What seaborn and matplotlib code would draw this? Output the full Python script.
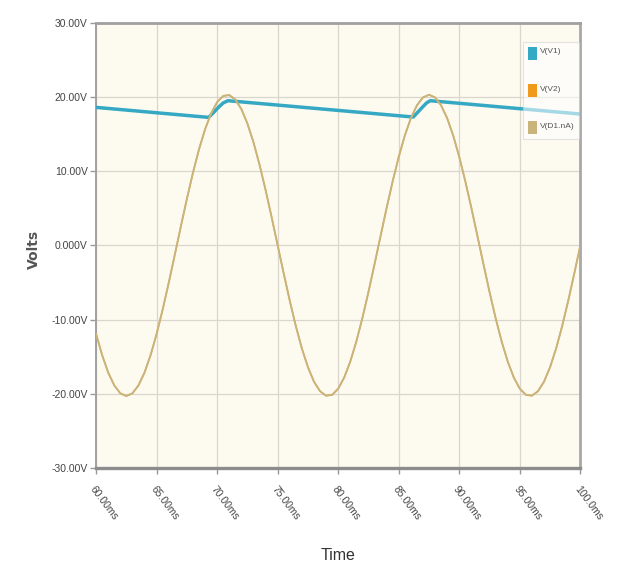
import matplotlib
matplotlib.use("Agg")
import matplotlib.pyplot as plt
from matplotlib.patches import Patch
import seaborn as sns
import pandas as pd

# Time axis for the source waveform, in ms (0.5 ms steps)
time_ms = [60 + 0.5 * k for k in range(81)]

# Source / diode anode voltage, V
v_source = [
    -11.93, -14.80, -17.14, -18.87, -19.94, -20.30, -19.94, -18.87, -17.14, -14.80,
    -11.93, -8.64, -5.05, -1.27, 2.54, 6.27, 9.78, 12.94, 15.64, 17.79,
    19.31, 20.14, 20.26, 19.66, 18.37, 16.42, 13.90, 10.88, 7.47, 3.80,
    0.00, -3.80, -7.47, -10.88, -13.90, -16.42, -18.37, -19.66, -20.26, -20.14,
    -19.31, -17.79, -15.64, -12.94, -9.78, -6.27, -2.54, 1.27, 5.05, 8.64,
    11.93, 14.80, 17.14, 18.87, 19.94, 20.30, 19.94, 18.87, 17.14, 14.80,
    11.93, 8.64, 5.05, 1.27, -2.54, -6.27, -9.78, -12.94, -15.64, -17.79,
    -19.31, -20.14, -20.26, -19.66, -18.37, -16.42, -13.90, -10.88, -7.47, -3.80,
    0.00,
]

# Capacitor (output) voltage: ripple with charging bumps near the peaks
cap_time_ms = [60.0, 69.3, 69.7, 70.1, 70.5, 70.9, 86.2, 86.6, 87.0, 87.3, 87.6, 100.0]
v_cap = [18.6, 17.25, 17.9, 18.6, 19.2, 19.5, 17.3, 18.0, 18.7, 19.2, 19.5, 17.7]

series_names = ["V(V1)", "V(V2)", "V(D1.nA)"]
series_colors = ["#35A9C4", "#F09A1C", "#C9B47C"]

y_ticks = [30, 20, 10, 0, -10, -20, -30]
y_tick_labels = ["30.00V", "20.00V", "10.00V", "0.000V", "-10.00V", "-20.00V", "-30.00V"]
x_ticks = [60, 65, 70, 75, 80, 85, 90, 95, 100]
x_tick_labels = ["60.00ms", "65.00ms", "70.00ms", "75.00ms", "80.00ms",
                 "85.00ms", "90.00ms", "95.00ms", "100.0ms"]

sns.set_style("white")
plt.rcParams["font.family"] = ["Liberation Sans", "DejaVu Sans"]

src = pd.DataFrame({"t": time_ms, "v": v_source})
cap = pd.DataFrame({"t": cap_time_ms, "v": v_cap})

fig = plt.figure(figsize=(6.2, 5.7), dpi=100)
ax = fig.add_axes([0.155, 0.179, 0.781, 0.781])
ax.set_facecolor("#FDFAF0")

sns.lineplot(data=cap, x="t", y="v", ax=ax, color=series_colors[0], lw=2.5, zorder=3)
sns.lineplot(data=src, x="t", y="v", ax=ax, color=series_colors[1], lw=1.0, zorder=4)
sns.lineplot(data=src, x="t", y="v", ax=ax, color=series_colors[2], lw=1.4, zorder=5)

ax.set_xlim(60, 100)
ax.set_ylim(-30, 30)
ax.set_yticks(y_ticks)
ax.set_yticklabels(y_tick_labels, fontsize=7.5, color="#444444")
ax.set_xticks(x_ticks)
ax.set_xticklabels(x_tick_labels, fontsize=7.5, color="#444444",
                   rotation=-53, ha="left", va="top", rotation_mode="anchor")
ax.tick_params(axis="y", length=4, width=1, color="#999999", pad=2, left=True)
ax.tick_params(axis="x", length=4, width=1, color="#999999", pad=8, bottom=True)
ax.grid(True, color="#D9D6CE", lw=0.9)
ax.set_axisbelow(True)

for side, lw, col in [("top", 2.0, "#A0A0A0"), ("right", 2.0, "#A8A8A8"),
                      ("left", 1.4, "#A0A0A0"), ("bottom", 2.4, "#8C8C8C")]:
    ax.spines[side].set_visible(True)
    ax.spines[side].set_linewidth(lw)
    ax.spines[side].set_color(col)

ax.set_xlabel("")
ax.set_ylabel("")
fig.text(0.054, 0.562, "Volts", rotation=90, ha="center", va="center",
         fontsize=10, fontweight="bold", color="#555555",
         family=["DejaVu Sans"])
fig.text(0.545, 0.026, "Time", ha="center", va="center",
         fontsize=11.5, color="#333333")

handles = [Patch(facecolor=c, edgecolor="none") for c in series_colors]
leg = ax.legend(handles, series_names, loc="upper left",
                bbox_to_anchor=(0.882, 0.956), fontsize=6, frameon=True,
                handlelength=1.0, handleheight=2.0, handletextpad=0.4,
                labelspacing=2.9, borderpad=0.6, fancybox=False,
                borderaxespad=0, framealpha=0.55)
leg.get_frame().set_edgecolor("#D0D0D0")
leg.get_frame().set_facecolor("#FFFFFF")
leg.get_frame().set_linewidth(0.8)
for txt in leg.get_texts():
    txt.set_color("#555555")
    txt.set_y(3)

fig.savefig("out.png", dpi=100, facecolor="white")
